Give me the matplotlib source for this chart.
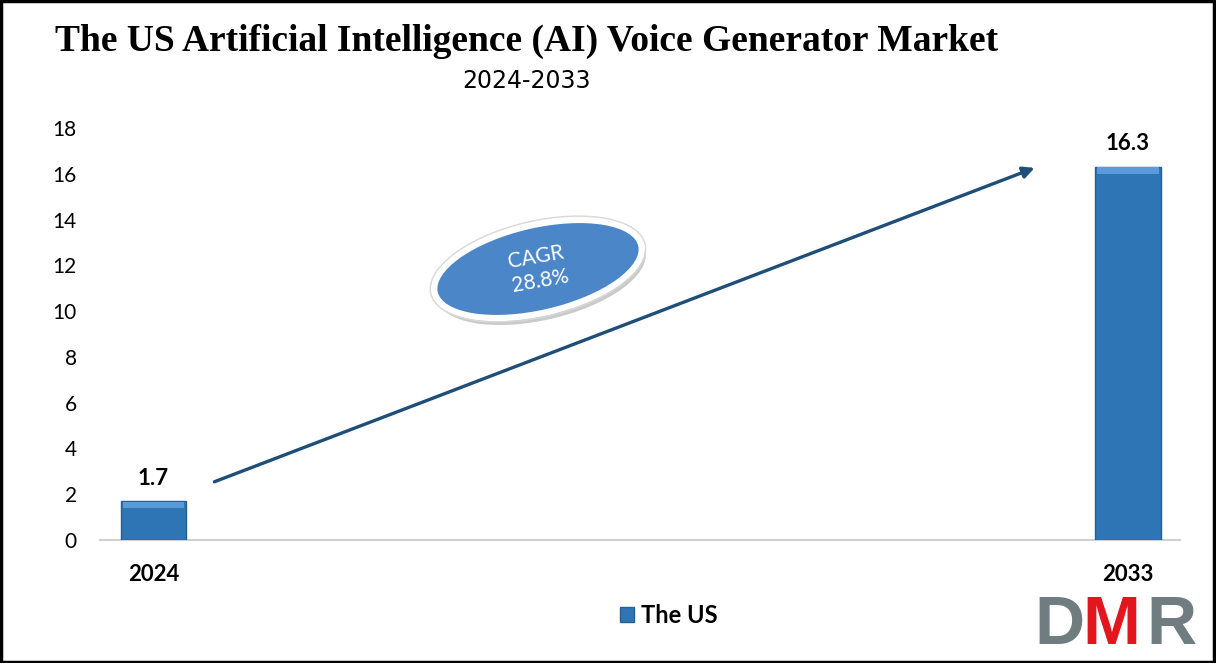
import matplotlib
matplotlib.use("Agg")
import matplotlib.pyplot as plt
from matplotlib.patches import Ellipse, Rectangle
import numpy as np

years = ["2024", "2033"]
values = [1.7, 16.3]
series_name = "The US"
cagr_text = "CAGR\n28.8%"
title = "The US Artificial Intelligence (AI) Voice Generator Market"
subtitle = "2024-2033"
yticks = [0, 2, 4, 6, 8, 10, 12, 14, 16, 18]

bar_color = "#2E75B6"
arrow_color = "#1F4E79"

plt.rcParams['font.family'] = ['Lato', 'DejaVu Sans']

fig = plt.figure(figsize=(12.16, 6.63), dpi=100)
ax = fig.add_axes([0.082, 0.1855, 0.888, 0.6215])

x = np.arange(len(years))
bars = ax.bar(x, values, width=0.067, color=bar_color, edgecolor="#245F96",
              linewidth=1.0, label=series_name, zorder=3)
# light bevel on bar tops
for b in bars:
    ax.add_patch(Rectangle((b.get_x() + 0.002, b.get_height() - 0.3),
                           b.get_width() - 0.004, 0.28,
                           color="#5A9AD8", zorder=4, linewidth=0))
for xi, v in zip(x, values):
    ax.text(xi, v + 0.55, f"{v}", ha="center", va="bottom", fontsize=16,
            fontweight="bold", color="black")

ax.set_xlim(-0.055, 1.053)
ax.set_ylim(0, 18)
ax.set_yticks(yticks)
ax.set_xticks(x)
ax.set_xticklabels(years, fontsize=16, fontweight="bold")
ax.tick_params(axis="y", labelsize=15, length=0, pad=16.5)
ax.tick_params(axis="x", length=0, pad=17)
for s in ["top", "right", "left"]:
    ax.spines[s].set_visible(False)
ax.spines["bottom"].set_color("#D0D0D0")
ax.spines["bottom"].set_linewidth(1.5)

# growth arrow
ax.annotate("", xy=(0.907, 16.3), xytext=(0.06, 2.5),
            arrowprops=dict(arrowstyle="-|>", color=arrow_color, lw=2.4,
                            mutation_scale=17), zorder=2)

# CAGR bubble, drawn in pixel space so the ellipse keeps its shape
pix = fig.add_axes([0, 0, 1, 1], facecolor="none")
pix.set_xlim(0, 1216)
pix.set_ylim(0, 663)
pix.axis("off")
ecx, ecy = 538, 663 - 269
pix.add_patch(Ellipse((ecx + 3, ecy - 6), 214, 90, angle=13,
                      facecolor="#A8A8A8", edgecolor="none", alpha=0.6, zorder=4))
pix.add_patch(Ellipse((ecx, ecy), 212, 88, angle=13, facecolor="#4A86C8",
                      edgecolor="white", linewidth=4.5, zorder=5))
pix.add_patch(Ellipse((ecx, ecy), 220, 96, angle=13, facecolor="none",
                      edgecolor="#D8D8D8", linewidth=1.0, zorder=5))
pix.text(ecx, ecy, cagr_text, ha="center", va="center", color="white",
         fontsize=15, rotation=10, linespacing=1.25, zorder=6)

leg = fig.legend(loc="center", bbox_to_anchor=(0.55, 0.072), frameon=False,
                 prop={"size": 17, "weight": "bold"}, handlelength=0.6,
                 handleheight=0.6, handletextpad=0.3)

fig.text(0.433, 0.937, title, ha="center", va="center", fontsize=27,
         fontweight="bold", family="Liberation Serif")
fig.text(0.433, 0.878, subtitle, ha="center", va="center", fontsize=17,
         family="Liberation Sans Narrow")

# DMR logo
logo_y = 0.007
fig.text(1034 / 1216, logo_y, "D", fontsize=50, fontweight="bold", color="#6F7C80",
         family="Liberation Sans", ha="left", va="bottom")
fig.text(1082 / 1216, logo_y, "M", fontsize=50, fontweight="bold", color="#E3151D",
         family="Liberation Sans", ha="left", va="bottom")
fig.text(1146 / 1216, logo_y, "R", fontsize=50, fontweight="bold", color="#6F7C80",
         family="Liberation Sans", ha="left", va="bottom")

fig.add_artist(Rectangle((0.001, 0.002), 0.997, 0.996, transform=fig.transFigure,
                         fill=False, edgecolor="black", linewidth=2.5))

fig.savefig("out.png", dpi=100)
